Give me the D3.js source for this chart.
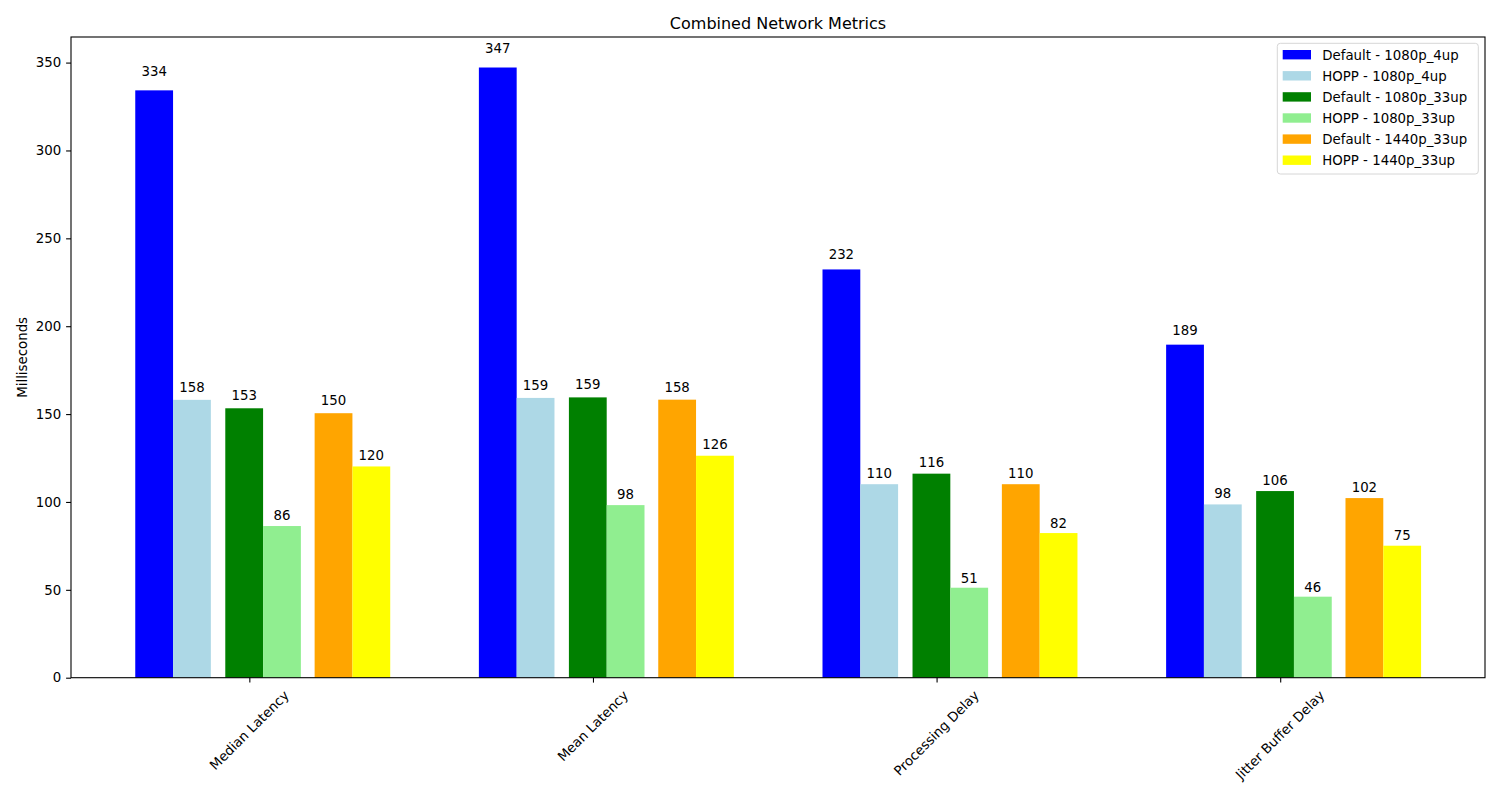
<!DOCTYPE html>
<html>
<head>
<meta charset="utf-8">
<script src="https://cdn.jsdelivr.net/npm/d3@7"></script>
<style>
  body { margin: 0; background: #fff; }
  text { font-family: "DejaVu Sans", sans-serif; fill: #000; }
</style>
</head>
<body>
<script>
// Chart data
var metrics = ["Median Latency", "Mean Latency", "Processing Delay", "Jitter Buffer Delay"];
var seriesNames = ["Default - 1080p_4up", "HOPP - 1080p_4up", "Default - 1080p_33up",
                   "HOPP - 1080p_33up", "Default - 1440p_33up", "HOPP - 1440p_33up"];
var default1080p4up  = [334.2, 347.2, 232.3, 189.5];
var hopp1080p4up     = [158.1, 159.2, 110.1, 98.6];
var default1080p33up = [153.3, 159.5, 116.1, 106.2];
var hopp1080p33up    = [86.3, 98.2, 51.2, 46.1];
var default1440p33up = [150.5, 158.2, 110.1, 102.2];
var hopp1440p33up    = [120.2, 126.3, 82.3, 75.1];
var yTicks = [0, 50, 100, 150, 200, 250, 300, 350];

var seriesValues = [default1080p4up, hopp1080p4up, default1080p33up,
                    hopp1080p33up, default1440p33up, hopp1440p33up];
var colors = ["blue", "lightblue", "green", "lightgreen", "orange", "yellow"];

// bar placement inside a group (in category units)
var offsets = [-0.332, -0.222, -0.070, 0.040, 0.190, 0.300];
var barWidth = 0.11;

// SVG Size
var W = 1500, H = 800;
var margin = {top: 37, right: 15, bottom: 122.3, left: 71};
var width = W - margin.left - margin.right;
var height = H - margin.top - margin.bottom;

var svg = d3.select("body").append("svg")
    .attr("width", W)
    .attr("height", H);

var g = svg.append("g")
    .attr("transform", "translate(" + margin.left + "," + margin.top + ")");

var ymax = d3.max(seriesValues, function(s) { return d3.max(s); }) * 1.05;

var x = d3.scaleLinear()
    .domain([-0.519, 3.596])
    .range([0, width]);

var y = d3.scaleLinear()
    .domain([0, ymax])
    .range([height, 0]);

// bars
var flat = [];
seriesValues.forEach(function(vals, si) {
    vals.forEach(function(v, mi) {
        flat.push({s: si, m: mi, v: v});
    });
});

g.selectAll("rect.bar")
    .data(flat)
    .enter()
    .append("rect")
    .attr("class", "bar")
    .attr("x", function(d) { return x(d.m + offsets[d.s]); })
    .attr("width", function(d) { return x(d.m + offsets[d.s] + barWidth) - x(d.m + offsets[d.s]); })
    .attr("y", function(d) { return y(d.v); })
    .attr("height", function(d) { return y(0) - y(d.v); })
    .attr("fill", function(d) { return colors[d.s]; });

// value labels
g.selectAll("text.val")
    .data(flat)
    .enter()
    .append("text")
    .attr("class", "val")
    .attr("x", function(d) { return x(d.m + offsets[d.s] + barWidth / 2); })
    .attr("y", function(d) { return y(d.v * 1.02) - 2.6; })
    .attr("text-anchor", "middle")
    .style("font-size", "13.33px")
    .text(function(d) { return Math.floor(d.v); });

// axes
var yAxis = d3.axisLeft(y).tickValues(yTicks).tickSize(4.9).tickPadding(4.9);
var yG = g.append("g").call(yAxis);
yG.select(".domain").remove();
yG.selectAll("text").style("font-size", "13.33px").attr("font-family", null);
yG.selectAll("line").attr("stroke-width", 1.1);

var xAxis = d3.axisBottom(x).tickValues([0, 1, 2, 3]).tickSize(4.9).tickFormat("");
var xG = g.append("g").attr("transform", "translate(0," + height + ")").call(xAxis);
xG.select(".domain").remove();
xG.selectAll("line").attr("stroke-width", 1.1);

// rotated category labels, bbox centred under the tick
var lab = g.append("g");
metrics.forEach(function(m, i) {
    var t = lab.append("text")
        .style("font-size", "13.33px")
        .attr("text-anchor", "middle")
        .attr("dominant-baseline", "central")
        .text(m);
    var L = t.node().getComputedTextLength();
    var box = (L + 15.5) * Math.SQRT1_2;
    var cx = x(i), cy = height + 9.8 + box / 2;
    t.attr("transform", "translate(" + cx + "," + cy + ") rotate(-45)");
});

// frame
g.append("rect")
    .attr("width", width)
    .attr("height", height)
    .attr("fill", "none")
    .attr("stroke", "#000")
    .attr("stroke-width", 1.1);

// title & y label
svg.append("text")
    .attr("x", margin.left + width / 2)
    .attr("y", margin.top - 8.3)
    .attr("text-anchor", "middle")
    .style("font-size", "16px")
    .text("Combined Network Metrics");

svg.append("text")
    .attr("transform", "translate(22," + (margin.top + height / 2) + ") rotate(-90)")
    .attr("text-anchor", "middle")
    .attr("dominant-baseline", "central")
    .style("font-size", "13.33px")
    .text("Milliseconds");

// legend
var legend = svg.append("g").attr("transform", "translate(1277.3,43.3)");
legend.append("rect")
    .attr("width", 201)
    .attr("height", 130.7)
    .attr("rx", 3)
    .attr("fill", "#fff")
    .attr("fill-opacity", 0.8)
    .attr("stroke", "#d6d6d6")
    .attr("stroke-width", 1);

var rows = legend.selectAll("g.row")
    .data(seriesNames)
    .enter()
    .append("g")
    .attr("class", "row")
    .attr("transform", function(d, i) { return "translate(0," + (11.4 + i * 21.1) + ")"; });

rows.append("rect")
    .attr("x", 5.4)
    .attr("y", -4.7)
    .attr("width", 28.3)
    .attr("height", 9.4)
    .attr("fill", function(d, i) { return colors[i]; });

rows.append("text")
    .attr("x", 45)
    .attr("y", 4.8)
    .style("font-size", "13.33px")
    .text(function(d) { return d; });
</script>
</body>
</html>
